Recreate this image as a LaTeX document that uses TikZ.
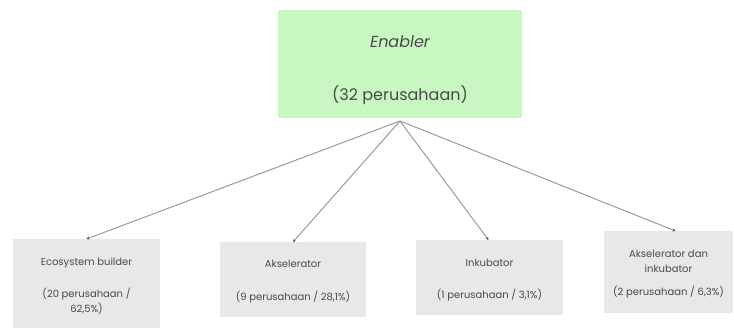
\documentclass[tikz,border=0pt]{standalone}
\usepackage{fontspec}
\setmainfont{Poppins}
\usetikzlibrary{arrows.meta}
\definecolor{enablergreen}{HTML}{C8F7C1}
\definecolor{boxgray}{HTML}{E8E8E8}
\definecolor{txtgray}{HTML}{4A4A4A}
\definecolor{linkgray}{HTML}{9A9A9A}
\newcommand{\lift}[1]{\rule{0pt}{#1}}
\tikzstyle{every node}=[inner sep=0, outer sep=0]
\tikzstyle{topbox}=[fill=enablergreen, minimum width=244pt, minimum height=108pt, text=txtgray, font=\fontsize{16}{19}\selectfont, align=center]
\tikzstyle{catbox}=[fill=boxgray, text=txtgray, font=\fontsize{10}{15}\selectfont, align=center]
\tikzstyle{link}=[linkgray, line width=1pt, -{Stealth[length=3pt,width=3pt,black!70]}]

\begin{document}
\begin{tikzpicture}[x=1pt, y=-1pt]
    \useasboundingbox (0, 0) rectangle (734, 329);
    \node[topbox] (enabler) at (400, 64) {\lift{24pt}\itshape Enabler\\[34pt](32 perusahaan)};
    \coordinate (hub) at (400, 121);
    \node[catbox, minimum width=147pt, minimum height=89pt] (eco) at (86.5, 283.5) {\lift{12pt}Ecosystem builder\\[17pt](20 perusahaan /\\62,5\%)};
    \node[catbox, minimum width=146pt, minimum height=75pt] (aks) at (293, 279.5) {\lift{12pt}Akselerator\\[18pt](9 perusahaan / 28,1\%)};
    \node[catbox, minimum width=147pt, minimum height=75pt] (ink) at (489.5, 277.5) {\lift{12pt}Inkubator\\[17pt](1 perusahaan / 3,1\%)};
    \node[catbox, minimum width=129pt, minimum height=82pt] (aksink) at (668.5, 272) {\lift{12pt}Akselerator dan\\inkubator\\[8pt](2 perusahaan / 6,3\%)};
    \draw[link] (hub) -- (eco.north);
    \draw[link] (hub) -- (aks.north);
    \draw[link] (hub) -- ([xshift=-1pt]ink.north);
    \draw[link] (hub) -- ([xshift=7pt]aksink.north);
\end{tikzpicture}
\end{document}
